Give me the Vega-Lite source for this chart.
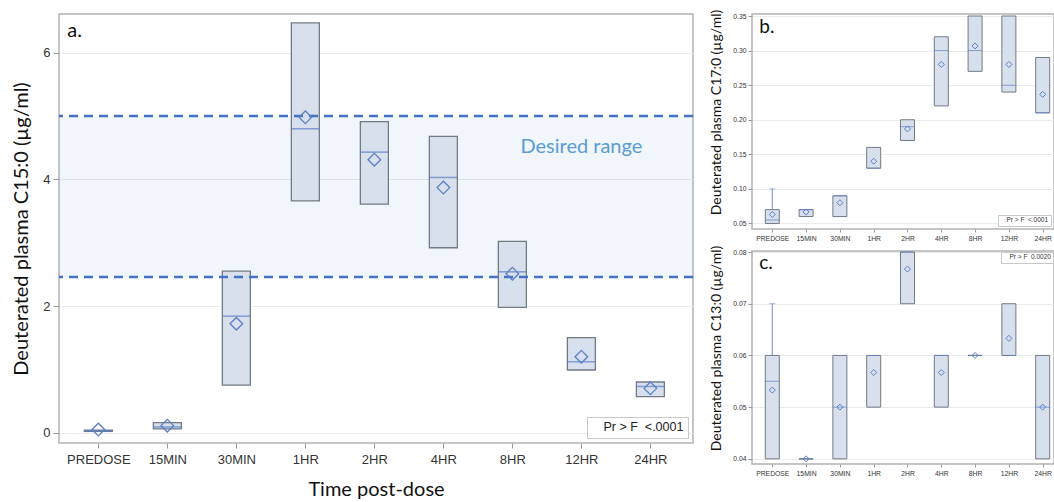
{
  "$schema": "https://vega.github.io/schema/vega-lite/v6.json",
  "padding": {"left": 10, "top": 8, "right": 0, "bottom": 0},
  "bounds": "flush",
  "spacing": 59,
  "background": "white",
  "datasets": {
    "a": [
      {"t": "PREDOSE", "q1": 0.02, "med": 0.03, "q3": 0.04, "mean": 0.05},
      {"t": "15MIN", "q1": 0.06, "med": 0.09, "q3": 0.16, "mean": 0.11},
      {"t": "30MIN", "q1": 0.75, "med": 1.84, "q3": 2.55, "mean": 1.72},
      {"t": "1HR", "q1": 3.66, "med": 4.8, "q3": 6.47, "mean": 4.98},
      {"t": "2HR", "q1": 3.61, "med": 4.43, "q3": 4.91, "mean": 4.31},
      {"t": "4HR", "q1": 2.92, "med": 4.03, "q3": 4.68, "mean": 3.87},
      {"t": "8HR", "q1": 1.98, "med": 2.54, "q3": 3.02, "mean": 2.51},
      {"t": "12HR", "q1": 0.99, "med": 1.12, "q3": 1.5, "mean": 1.2},
      {"t": "24HR", "q1": 0.57, "med": 0.73, "q3": 0.8, "mean": 0.7}
    ],
    "b": [
      {"t": "PREDOSE", "q1": 0.05, "med": 0.055, "q3": 0.07, "mean": 0.063, "hi": 0.1},
      {"t": "15MIN", "q1": 0.06, "med": 0.07, "q3": 0.07, "mean": 0.0667},
      {"t": "30MIN", "q1": 0.06, "med": 0.09, "q3": 0.09, "mean": 0.08},
      {"t": "1HR", "q1": 0.13, "med": 0.13, "q3": 0.16, "mean": 0.14},
      {"t": "2HR", "q1": 0.17, "med": 0.19, "q3": 0.2, "mean": 0.1867},
      {"t": "4HR", "q1": 0.22, "med": 0.3, "q3": 0.32, "mean": 0.28},
      {"t": "8HR", "q1": 0.27, "med": 0.3, "q3": 0.35, "mean": 0.3067},
      {"t": "12HR", "q1": 0.24, "med": 0.25, "q3": 0.35, "mean": 0.28},
      {"t": "24HR", "q1": 0.21, "med": 0.21, "q3": 0.29, "mean": 0.2367}
    ],
    "c": [
      {"t": "PREDOSE", "q1": 0.04, "med": 0.055, "q3": 0.06, "mean": 0.0533, "hi": 0.07},
      {"t": "15MIN", "q1": 0.04, "med": 0.04, "q3": 0.04, "mean": 0.04},
      {"t": "30MIN", "q1": 0.04, "med": 0.05, "q3": 0.06, "mean": 0.05},
      {"t": "1HR", "q1": 0.05, "med": 0.06, "q3": 0.06, "mean": 0.0567},
      {"t": "2HR", "q1": 0.07, "med": 0.08, "q3": 0.08, "mean": 0.0767},
      {"t": "4HR", "q1": 0.05, "med": 0.06, "q3": 0.06, "mean": 0.0567},
      {"t": "8HR", "q1": 0.06, "med": 0.06, "q3": 0.06, "mean": 0.06},
      {"t": "12HR", "q1": 0.06, "med": 0.06, "q3": 0.07, "mean": 0.0633},
      {"t": "24HR", "q1": 0.04, "med": 0.05, "q3": 0.06, "mean": 0.05}
    ]
  },
  "hconcat": [
    {
      "width": 634,
      "height": 429,
      "data": {"name": "a"},
      "layer": [
        {
          "data": {"values": [{"lo": 2.46, "hi": 5.0}]},
          "mark": {"type": "rect", "fill": "#5b9bd5", "opacity": 0.09},
          "encoding": {
            "y": {"field": "lo", "type": "quantitative", "title": "Deuterated plasma C15:0 (µg/ml)"},
            "y2": {"field": "hi"}
          }
        },
        {
          "mark": {"type": "bar", "width": 28, "fill": "#d7e0ec", "stroke": "#737a84", "strokeWidth": 1.3},
          "encoding": {
            "x": {"field": "t", "type": "nominal", "title": "Time post-dose",
              "scale": {"type": "point", "domain": ["PREDOSE","15MIN","30MIN","1HR","2HR","4HR","8HR","12HR","24HR"], "padding": 0.594, "align": 0.48},
              "axis": {"labelAngle": 0, "labelFontSize": 13, "tickSize": 5, "labelPadding": 5, "titleFontSize": 20, "titlePadding": 13, "grid": false}},
            "y": {"field": "q1", "type": "quantitative", "title": "Deuterated plasma C15:0 (µg/ml)",
              "scale": {"domain": [-0.163, 6.611], "nice": false, "zero": false},
              "axis": {"values": [0, 2, 4, 6], "format": "d", "tickCount": 10, "labelFontSize": 13, "tickSize": 6, "labelPadding": 3, "minExtent": 18, "maxExtent": 18, "titleFontSize": 20, "titlePadding": 10, "labelOverlap": false}},
            "y2": {"field": "q3"}
          }
        },
        {
          "data": {"values": [{"v": 2.46}, {"v": 5.0}]},
          "mark": {"type": "rule", "strokeDash": [9, 6], "strokeWidth": 2.5, "color": "#4472c4"},
          "encoding": {"y": {"field": "v", "type": "quantitative", "title": "Deuterated plasma C15:0 (µg/ml)"}}
        },
        {
          "mark": {"type": "tick", "size": 28, "thickness": 1.5, "color": "#5b7fc7"},
          "encoding": {
            "x": {"field": "t", "type": "nominal", "title": "Time post-dose"},
            "y": {"field": "med", "type": "quantitative", "title": "Deuterated plasma C15:0 (µg/ml)"}
          }
        },
        {
          "mark": {"type": "point", "shape": "diamond", "filled": false, "size": 160, "color": "#5b7fc7", "strokeWidth": 1.3, "opacity": 1},
          "encoding": {
            "x": {"field": "t", "type": "nominal", "title": "Time post-dose"},
            "y": {"field": "mean", "type": "quantitative", "title": "Deuterated plasma C15:0 (µg/ml)"}
          }
        },
        {
          "data": {"values": [{"t": "12HR", "y": 4.42, "label": "Desired range"}]},
          "mark": {"type": "text", "fontSize": 20, "font": "Lato", "color": "#5b9bd5", "baseline": "alphabetic"},
          "encoding": {
            "x": {"field": "t", "type": "nominal", "title": "Time post-dose"},
            "y": {"field": "y", "type": "quantitative", "title": "Deuterated plasma C15:0 (µg/ml)"},
            "text": {"field": "label"}
          }
        },
        {
          "data": {"values": [{"t": "PREDOSE", "y": 6.24, "label": "a."}]},
          "mark": {"type": "text", "fontSize": 20, "font": "Lato", "color": "#111", "align": "left", "dx": -31, "baseline": "alphabetic"},
          "encoding": {
            "x": {"field": "t", "type": "nominal", "title": "Time post-dose"},
            "y": {"field": "y", "type": "quantitative", "title": "Deuterated plasma C15:0 (µg/ml)"},
            "text": {"field": "label"}
          }
        },
        {
          "data": {"values": [{"t": "24HR", "y": 0, "p": "Pr > F \u00a0<.0001"}]},
          "mark": {"type": "point", "opacity": 0},
          "encoding": {
            "x": {"field": "t", "type": "nominal", "title": "Time post-dose"},
            "y": {"field": "y", "type": "quantitative", "title": "Deuterated plasma C15:0 (µg/ml)"},
            "color": {"field": "p", "type": "nominal", "scale": {"range": ["#000000"]},
              "legend": {"orient": "bottom-right", "title": null, "symbolSize": 0, "symbolOpacity": 0, "symbolStrokeWidth": 0, "labelOffset": 0, "labelFontSize": 12.5, "labelColor": "#222", "strokeColor": "#c8c8c8", "fillColor": "white", "padding": 4, "offset": 5}}
          }
        }
      ]
    },
    {
      "vconcat": [
        {
          "width": 302,
          "height": 215,
          "data": {"name": "b"},
          "layer": [
            {
              "transform": [{"filter": "datum.hi != null"}],
              "mark": {"type": "rule", "color": "#7090d0", "strokeWidth": 1},
              "encoding": {
                "x": {"field": "t", "type": "nominal", "title": null,
                  "scale": {"type": "point", "domain": ["PREDOSE","15MIN","30MIN","1HR","2HR","4HR","8HR","12HR","24HR"], "padding": 0.4675, "align": 0.642},
                  "axis": {"labelAngle": 0, "labelFontSize": 6.8, "tickSize": 3, "labelPadding": 3, "grid": false}},
                "y": {"field": "q3", "type": "quantitative", "title": "Deuterated plasma C17:0 (µg/ml)",
                  "scale": {"domain": [0.042, 0.3529], "nice": false, "zero": false},
                  "axis": {"values": [0.05, 0.1, 0.15, 0.2, 0.25, 0.3, 0.35], "format": ".2f", "tickCount": 20, "labelFontSize": 6.8, "tickSize": 4, "labelPadding": 2, "minExtent": 20, "maxExtent": 20, "titleFontSize": 14, "titlePadding": 9, "titleY": 98, "labelOverlap": false}},
                "y2": {"field": "hi"}
              }
            },
            {
              "transform": [{"filter": "datum.hi != null"}],
              "mark": {"type": "tick", "size": 6, "thickness": 1, "color": "#7090d0"},
              "encoding": {
                "x": {"field": "t", "type": "nominal", "title": null},
                "y": {"field": "hi", "type": "quantitative", "title": "Deuterated plasma C17:0 (µg/ml)"}
              }
            },
            {
              "mark": {"type": "bar", "width": 14, "fill": "#d7e0ec", "stroke": "#737a84", "strokeWidth": 1},
              "encoding": {
                "x": {"field": "t", "type": "nominal", "title": null},
                "y": {"field": "q1", "type": "quantitative", "title": "Deuterated plasma C17:0 (µg/ml)"},
                "y2": {"field": "q3"}
              }
            },
            {
              "mark": {"type": "tick", "size": 14, "thickness": 1, "color": "#5b7fc7"},
              "encoding": {
                "x": {"field": "t", "type": "nominal", "title": null},
                "y": {"field": "med", "type": "quantitative", "title": "Deuterated plasma C17:0 (µg/ml)"}
              }
            },
            {
              "mark": {"type": "point", "shape": "diamond", "filled": false, "size": 36, "color": "#5b7fc7", "strokeWidth": 1, "opacity": 1},
              "encoding": {
                "x": {"field": "t", "type": "nominal", "title": null},
                "y": {"field": "mean", "type": "quantitative", "title": "Deuterated plasma C17:0 (µg/ml)"}
              }
            },
            {
              "data": {"values": [{"t": "PREDOSE", "y": 0.325, "label": "b."}]},
              "mark": {"type": "text", "fontSize": 19, "font": "Lato", "color": "#111", "align": "left", "dx": -13, "baseline": "alphabetic"},
              "encoding": {
                "x": {"field": "t", "type": "nominal", "title": null},
                "y": {"field": "y", "type": "quantitative", "title": "Deuterated plasma C17:0 (µg/ml)"},
                "text": {"field": "label"}
              }
            },
            {
              "data": {"values": [{"t": "24HR", "y": 0.06, "p": "Pr > F \u00a0<.0001"}]},
              "mark": {"type": "point", "opacity": 0},
              "encoding": {
                "x": {"field": "t", "type": "nominal", "title": null},
                "y": {"field": "y", "type": "quantitative", "title": "Deuterated plasma C17:0 (µg/ml)"},
                "color": {"field": "p", "type": "nominal", "scale": {"range": ["#000000"]},
                  "legend": {"orient": "bottom-right", "title": null, "symbolSize": 0, "symbolOpacity": 0, "symbolStrokeWidth": 0, "labelOffset": 0, "labelFontSize": 6.5, "labelColor": "#333", "strokeColor": "#c8c8c8", "fillColor": "white", "padding": 2, "offset": 3}}
              }
            }
          ]
        },
        {
          "width": 302,
          "height": 213,
          "data": {"name": "c"},
          "layer": [
            {
              "transform": [{"filter": "datum.hi != null"}],
              "mark": {"type": "rule", "color": "#7090d0", "strokeWidth": 1},
              "encoding": {
                "x": {"field": "t", "type": "nominal", "title": null,
                  "scale": {"type": "point", "domain": ["PREDOSE","15MIN","30MIN","1HR","2HR","4HR","8HR","12HR","24HR"], "padding": 0.4675, "align": 0.642},
                  "axis": {"labelAngle": 0, "labelFontSize": 6.8, "tickSize": 3, "labelPadding": 3, "grid": false}},
                "y": {"field": "q3", "type": "quantitative", "title": "Deuterated plasma C13:0 (µg/ml)",
                  "scale": {"domain": [0.039, 0.0802], "nice": false, "zero": false},
                  "axis": {"values": [0.04, 0.05, 0.06, 0.07, 0.08], "format": ".2f", "tickCount": 20, "labelFontSize": 6.8, "tickSize": 4, "labelPadding": 2, "minExtent": 20, "maxExtent": 20, "titleFontSize": 14, "titlePadding": 9, "titleY": 97, "labelOverlap": false}},
                "y2": {"field": "hi"}
              }
            },
            {
              "transform": [{"filter": "datum.hi != null"}],
              "mark": {"type": "tick", "size": 6, "thickness": 1, "color": "#7090d0"},
              "encoding": {
                "x": {"field": "t", "type": "nominal", "title": null},
                "y": {"field": "hi", "type": "quantitative", "title": "Deuterated plasma C13:0 (µg/ml)"}
              }
            },
            {
              "mark": {"type": "bar", "width": 14, "fill": "#d7e0ec", "stroke": "#737a84", "strokeWidth": 1},
              "encoding": {
                "x": {"field": "t", "type": "nominal", "title": null},
                "y": {"field": "q1", "type": "quantitative", "title": "Deuterated plasma C13:0 (µg/ml)"},
                "y2": {"field": "q3"}
              }
            },
            {
              "mark": {"type": "tick", "size": 14, "thickness": 1, "color": "#5b7fc7"},
              "encoding": {
                "x": {"field": "t", "type": "nominal", "title": null},
                "y": {"field": "med", "type": "quantitative", "title": "Deuterated plasma C13:0 (µg/ml)"}
              }
            },
            {
              "mark": {"type": "point", "shape": "diamond", "filled": false, "size": 36, "color": "#5b7fc7", "strokeWidth": 1, "opacity": 1},
              "encoding": {
                "x": {"field": "t", "type": "nominal", "title": null},
                "y": {"field": "mean", "type": "quantitative", "title": "Deuterated plasma C13:0 (µg/ml)"}
              }
            },
            {
              "data": {"values": [{"t": "PREDOSE", "y": 0.0767, "label": "c."}]},
              "mark": {"type": "text", "fontSize": 19, "font": "Lato", "color": "#111", "align": "left", "dx": -13, "baseline": "alphabetic"},
              "encoding": {
                "x": {"field": "t", "type": "nominal", "title": null},
                "y": {"field": "y", "type": "quantitative", "title": "Deuterated plasma C13:0 (µg/ml)"},
                "text": {"field": "label"}
              }
            },
            {
              "data": {"values": [{"t": "24HR", "y": 0.07, "p": "Pr > F \u00a00.0020"}]},
              "mark": {"type": "point", "opacity": 0},
              "encoding": {
                "x": {"field": "t", "type": "nominal", "title": null},
                "y": {"field": "y", "type": "quantitative", "title": "Deuterated plasma C13:0 (µg/ml)"},
                "color": {"field": "p", "type": "nominal", "scale": {"range": ["#000000"]},
                  "legend": {"orient": "top-right", "title": null, "symbolSize": 0, "symbolOpacity": 0, "symbolStrokeWidth": 0, "labelOffset": 0, "labelFontSize": 6.5, "labelColor": "#333", "strokeColor": "#c8c8c8", "fillColor": "white", "padding": 2, "offset": 1}}
              }
            }
          ]
        }
      ],
      "spacing": 22,
      "bounds": "flush",
      "resolve": {"scale": {"color": "independent"}, "legend": {"color": "independent"}}
    }
  ],
  "resolve": {"scale": {"color": "independent"}, "legend": {"color": "independent"}},
  "config": {
    "view": {"stroke": "#b3b3b3", "strokeWidth": 1.5},
    "axis": {
      "domain": false,
      "gridColor": "#ebebeb",
      "tickColor": "#999999",
      "labelColor": "#333333",
      "labelFont": "Liberation Sans",
      "titleFont": "Lato",
      "titleFontWeight": "normal",
      "titleColor": "#111111"
    },
    "axisX": {"grid": false},
    "legend": {"labelFont": "Liberation Sans"}
  }
}
